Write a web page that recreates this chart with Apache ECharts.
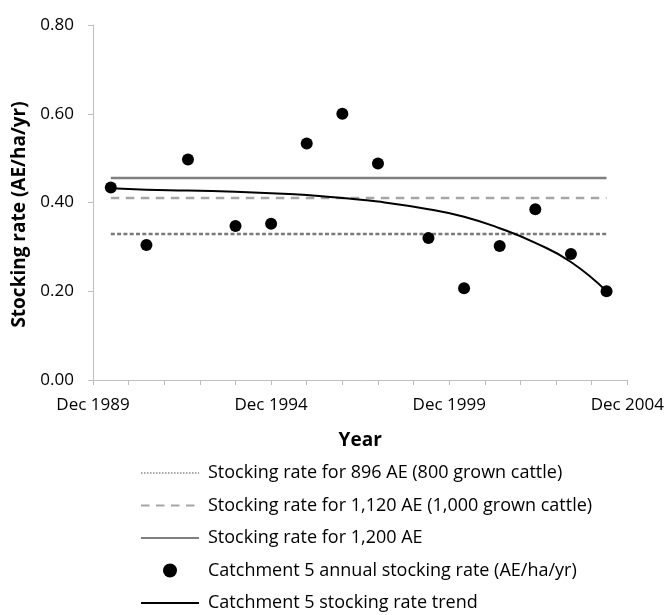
<!DOCTYPE html>
<html>
<head>
<meta charset="utf-8">
<script src="https://cdn.jsdelivr.net/npm/echarts@6/dist/echarts.min.js"></script>
<style>html,body{margin:0;padding:0;background:#fff;}#c{width:667px;height:615px;}</style>
</head>
<body>
<div id="c"></div>
<script>
// Months since Dec 1989 for each annual observation
const obsMonths = [6, 18, 32, 48, 60, 72, 84, 96, 113, 125, 137, 149, 161, 173];
const annualRate = [0.434, 0.304, 0.497, 0.347, 0.352, 0.533, 0.600, 0.488, 0.320, 0.207, 0.302, 0.385, 0.284, 0.200];
const trendRate = [0.432, 0.429, 0.427, 0.424, 0.421, 0.417, 0.410, 0.402, 0.385, 0.368, 0.342, 0.309, 0.266, 0.200];
const rate896 = 0.329;
const rate1120 = 0.410;
const rate1200 = 0.455;
const seriesNames = [
  'Stocking rate for 896 AE (800 grown cattle)',
  'Stocking rate for 1,120 AE (1,000 grown cattle)',
  'Stocking rate for 1,200 AE',
  'Catchment 5 annual stocking rate (AE/ha/yr)',
  'Catchment 5 stocking rate trend'
];
const yTicks = [0, 0.2, 0.4, 0.6, 0.8];

const font = 'Open Sans';
const first = obsMonths[0], last = obsMonths[obsMonths.length - 1];
const flat = v => [[first, v], [last, v]];
const noSym = {color: 'rgba(0,0,0,0)', borderColor: 'rgba(0,0,0,0)', borderWidth: 0, opacity: 0};

const chart = echarts.init(document.getElementById('c'));
chart.setOption({
  animation: false,
  backgroundColor: '#fff',
  grid: {left: 93, right: 38, top: 25, bottom: 235},
  xAxis: {
    type: 'value', min: 0, max: 180, interval: 12,
    name: 'Year', nameLocation: 'middle', nameGap: 51,
    nameTextStyle: {fontFamily: font, fontWeight: 'bold', fontSize: 19, color: '#000'},
    axisLine: {lineStyle: {color: '#bfbfbf', width: 1}},
    axisTick: {show: true, length: 5, lineStyle: {color: '#bfbfbf'}},
    splitLine: {show: false},
    axisLabel: {
      fontFamily: font, fontSize: 17, color: '#000', margin: 17, showMaxLabel: true,
      formatter: v => (v % 60 === 0 ? 'Dec ' + (1989 + v / 12) : '')
    }
  },
  yAxis: {
    type: 'value', min: yTicks[0], max: yTicks[yTicks.length - 1], interval: 0.2,
    name: 'Stocking rate (AE/ha/yr)', nameLocation: 'middle', nameGap: 58,
    nameTextStyle: {fontFamily: font, fontWeight: 'bold', fontSize: 19, color: '#000', padding: [0, 24, 0, 0]},
    axisLine: {show: true, lineStyle: {color: '#bfbfbf', width: 1}},
    axisTick: {show: true, length: 5, lineStyle: {color: '#bfbfbf'}},
    splitLine: {show: false},
    axisLabel: {fontFamily: font, fontSize: 17, color: '#000', margin: 19, formatter: v => v.toFixed(2)}
  },
  legend: {
    orient: 'vertical', left: 135, top: 458, height: 170,
    itemWidth: 58, itemHeight: 14, itemGap: 12.5,
    textStyle: {fontFamily: font, fontSize: 18, lineHeight: 20, color: '#000', padding: [0, 0, 0, 4]},
    data: [
      {name: seriesNames[0], itemStyle: noSym, lineStyle: {type: [1.5, 1.5], width: 1.5, color: '#8c8c8c'}},
      {name: seriesNames[1], itemStyle: noSym},
      {name: seriesNames[2], itemStyle: noSym},
      {name: seriesNames[3], icon: 'circle'},
      {name: seriesNames[4], itemStyle: noSym}
    ]
  },
  series: [
    {
      name: seriesNames[0], type: 'line', data: flat(rate896), symbol: 'none',
      lineStyle: {color: '#7a7a7a', width: 2.5, type: [4, 2.3]}, itemStyle: {color: '#7a7a7a'}
    },
    {
      name: seriesNames[1], type: 'line', data: flat(rate1120), symbol: 'none',
      lineStyle: {color: '#a6a6a6', width: 2.5, type: [8.5, 6.5]}, itemStyle: {color: '#a6a6a6'}
    },
    {
      name: seriesNames[2], type: 'line', data: flat(rate1200), symbol: 'none',
      lineStyle: {color: '#808080', width: 2.5}, itemStyle: {color: '#808080'}
    },
    {
      name: seriesNames[4], type: 'line', smooth: true, symbol: 'none',
      data: obsMonths.map((m, i) => [m, trendRate[i]]),
      lineStyle: {color: '#000', width: 2}, itemStyle: {color: '#000'}
    },
    {
      name: seriesNames[3], type: 'scatter', symbol: 'circle', symbolSize: 12,
      data: obsMonths.map((m, i) => [m, annualRate[i]]),
      itemStyle: {color: '#000', opacity: 1}, z: 5
    }
  ]
});
</script>
</body>
</html>
